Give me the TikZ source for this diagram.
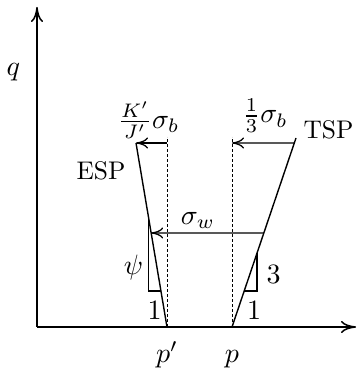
\documentclass[tikz,border=0pt]{standalone}
\usetikzlibrary{positioning,arrows.meta,calc}

\begin{document}
\begin{tikzpicture}[x=1pt,y=1pt,
    lbl/.style={inner sep=0pt,scale=2.55},
    mlbl/.style={inner sep=0pt,scale=2.8},
    ln/.style={line width=1.4pt},
    guide/.style={densely dashed,line width=1pt},
    slope/.style={line width=1.1pt},
    push/.style={-{To[length=12pt,width=11pt]},line width=1.3pt},
    axis/.style={-{To[length=15pt,width=12pt]},line width=1.5pt}]
    \useasboundingbox (0,0) rectangle (358,371);
    % axes and lines
    \coordinate (o) at (37,44);
    \coordinate (qend) at (37,364);
    \coordinate (pend) at (356,44);
    \coordinate (pp) at (167,44);
    \coordinate (p) at (232,44);
    \coordinate (espT) at (136,228);
    \coordinate (tspT) at (296,233);
    \coordinate (ppT) at (167,234);
    \coordinate (pT) at (232,234);
    \coordinate (bl) at (167,228);
    \coordinate (br) at (232,228);
    \coordinate (tspB) at ($(p)!184/189!(tspT)$);
    \coordinate (tspW) at ($(p)!94/189!(tspT)$);
    \coordinate (espW) at ($(pp)!94/184!(espT)$);
    % slope triangles
    \coordinate (eA) at ($(pp)!36/184!(espT)$);
    \coordinate (eB) at ($(pp)!0.6!(espT)$);
    \coordinate (eC) at (eB |- eA);
    \coordinate (tA) at ($(p)!36/189!(tspT)$);
    \coordinate (tB) at ($(p)!0.39!(tspT)$);
    \coordinate (tC) at (tB |- tA);
    \draw[axis] (o) -- (qend);
    \draw[axis] (o) -- (pend);
    \draw[ln] (pp) -- (espT);
    \draw[ln] (p) -- (tspT);
    \draw[guide] (pp) -- (ppT);
    \draw[guide] (p) -- (pT);
    \draw[push] (bl) -- (espT);
    \draw[push] (tspB) -- (br);
    \draw[push] (tspW) -- (espW);
    \draw[slope] (eB) -- (eC) -- (eA);
    \draw[slope] (tB) -- (tC) -- (tA);
    % labels
    \node[mlbl] (q) at (13.5,298.5) {$q$};
    \node[lbl,anchor=east] (esp) at (126,200.5) {ESP};
    \node[lbl,anchor=west] (tsp) at (303,241) {TSP};
    \node[mlbl] (kj) at (148.5,251) {$\frac{K'}{J'}\sigma_b$};
    \node[mlbl] (third) at (265,255) {$\frac{1}{3}\sigma_b$};
    \node[mlbl] (sw) at (198,150.5) {$\sigma_w$};
    \node[mlbl] (psi) at (133.5,103.5) {$\psi$};
    \node[mlbl] (one1) at (154.5,61) {1};
    \node[mlbl] (three) at (273.5,97) {3};
    \node[mlbl] (one2) at (254,61) {1};
    \node[mlbl,below=15.5pt of pp,text height=1.6ex,text depth=0.45ex] (lpp) {$p'$};
    \node[mlbl,below=15.5pt of p,text height=1.6ex,text depth=0.45ex] (lp) {$p$};
\end{tikzpicture}
\end{document}
